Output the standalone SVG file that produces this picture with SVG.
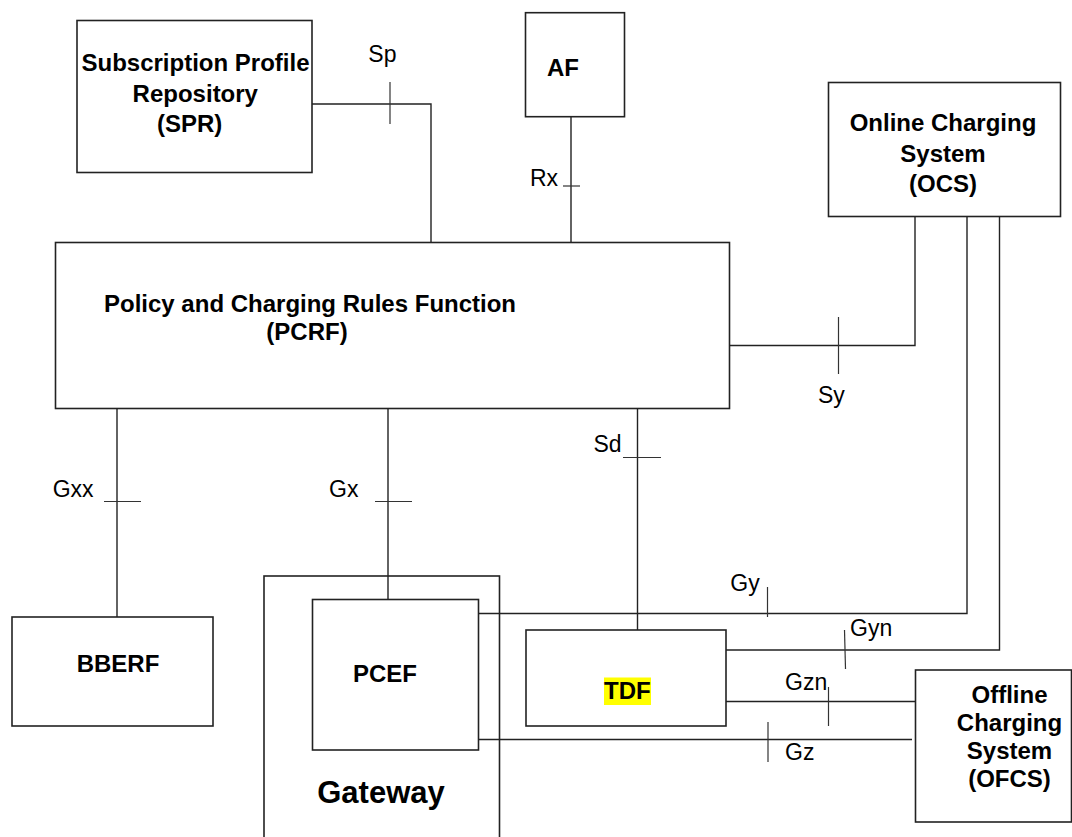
<svg xmlns="http://www.w3.org/2000/svg" width="1072" height="837" viewBox="0 0 1072 837">
<style>
.box{fill:#fff;stroke:#222;stroke-width:1.6}
.ln{fill:none;stroke:#222;stroke-width:1.4}
.tk{fill:none;stroke:#333;stroke-width:1.2}
.b{font-family:"Liberation Sans",Arial,sans-serif;font-weight:bold;font-size:24px;fill:#000;text-anchor:middle}
.r{font-family:"Liberation Sans",Arial,sans-serif;font-size:23px;fill:#000}
</style>
<rect width="1072" height="837" fill="#fff"/>
<g id="gateway">
<rect class="box" x="264" y="576" width="235.5" height="280"/>
<text class="b" x="381" y="802.7" style="font-size:31px">Gateway</text>
</g>
<g id="connectors">
<path class="ln" d="M312,104 H431 V242"/>
<path class="ln" d="M571,117 V242"/>
<path class="ln" d="M730,345.5 H915 V216"/>
<path class="ln" d="M117,408 V617"/>
<path class="ln" d="M388,408 V599"/>
<path class="ln" d="M637.5,408 V630"/>
<path class="ln" d="M478,613.5 H967 V216"/>
<path class="ln" d="M726,650 H999.5 V216"/>
<path class="ln" d="M726,701.5 H915.5"/>
<path class="ln" d="M478,739.5 H912"/>
<path class="tk" d="M390,82 V124"/>
<path class="tk" d="M563,186 H580"/>
<path class="tk" d="M838.5,317 V374"/>
<path class="tk" d="M623,457.5 H661"/>
<path class="tk" d="M104,501.5 H141"/>
<path class="tk" d="M375,501.5 H412"/>
<path class="tk" d="M767.5,587 V617"/>
<path class="tk" d="M844.5,630 L845.5,669"/>
<path class="tk" d="M828.5,687 V726"/>
<path class="tk" d="M768,722 V762"/>
<text class="r" x="368.3" y="62">Sp</text>
<text class="r" x="558" y="186" text-anchor="end">Rx</text>
<text class="r" x="818" y="403">Sy</text>
<text class="r" x="593.5" y="451.7">Sd</text>
<text class="r" x="52.7" y="497.3">Gxx</text>
<text class="r" x="329" y="497">Gx</text>
<text class="r" x="730.3" y="590.7">Gy</text>
<text class="r" x="850" y="636">Gyn</text>
<text class="r" x="785" y="690">Gzn</text>
<text class="r" x="785" y="760">Gz</text>
</g>
<g id="spr">
<rect class="box" x="77" y="20.5" width="235" height="152"/>
<text class="b" x="195.5" y="70.7">Subscription Profile</text>
<text class="b" x="195.3" y="101.7">Repository</text>
<text class="b" x="189.7" y="131.5">(SPR)</text>
</g>
<g id="af">
<rect class="box" x="525.5" y="12.7" width="99" height="104"/>
<text class="b" x="563" y="76">AF</text>
</g>
<g id="ocs">
<rect class="box" x="828.5" y="82.5" width="232" height="134"/>
<text class="b" x="943" y="130.7">Online Charging</text>
<text class="b" x="943" y="161.7">System</text>
<text class="b" x="943" y="191.7">(OCS)</text>
</g>
<g id="pcrf">
<rect class="box" x="55.5" y="242.5" width="674" height="166"/>
<text class="b" x="104" y="312" style="text-anchor:start">Policy and Charging Rules Function</text>
<text class="b" x="307" y="340">(PCRF)</text>
</g>
<g id="bberf">
<rect class="box" x="12" y="617" width="201" height="109"/>
<text class="b" x="118" y="671.7">BBERF</text>
</g>
<g id="pcef">
<rect class="box" x="312.5" y="599.5" width="166" height="150.5"/>
<text class="b" x="385" y="681.7">PCEF</text>
</g>
<g id="tdf">
<rect class="box" x="526" y="630" width="200" height="96"/>
<rect x="604" y="677.5" width="47" height="27.5" fill="#ffff00"/>
<text class="b" x="627.4" y="699">TDF</text>
</g>
<g id="ofcs">
<rect class="box" x="915.5" y="670" width="156" height="152"/>
<text class="b" x="1009.5" y="703">Offline</text>
<text class="b" x="1009.5" y="731">Charging</text>
<text class="b" x="1009.5" y="759">System</text>
<text class="b" x="1009.5" y="787">(OFCS)</text>
</g>
</svg>
